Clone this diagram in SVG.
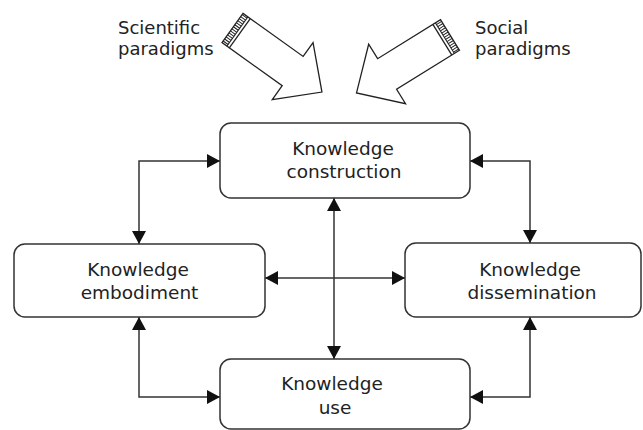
<svg xmlns="http://www.w3.org/2000/svg" width="643" height="430" viewBox="0 0 643 430">
  <style>
    .box { fill: #ffffff; stroke: #333333; stroke-width: 1.5; }
    .lbl { font-family: "DejaVu Sans", "Liberation Sans", sans-serif; font-size: 18.5px; fill: #222222; text-anchor: middle; }
    .side { font-family: "DejaVu Sans", "Liberation Sans", sans-serif; font-size: 18px; fill: #222222; }
    .con { fill: none; stroke: #333333; stroke-width: 1.5; marker-start: url(#ah); marker-end: url(#ah); }
    .big { fill: #ffffff; stroke: #222222; stroke-width: 1.3; stroke-linejoin: miter; }
    .hatch { stroke: #222222; stroke-width: 1; }
  </style>
  <defs>
    <marker id="ah" viewBox="0 0 13 14" refX="13" refY="7" markerWidth="13" markerHeight="14" markerUnits="userSpaceOnUse" orient="auto-start-reverse">
      <path d="M0,0 L13,7 L0,14 z" fill="#111111"/>
    </marker>
    <g id="hollow">
      <polygon class="big" points="0,-18 74,-18 74,-35 110,0 74,35 74,18 0,18"/>
      <g class="hatch">
        <line x1="0" y1="-16.5" x2="6" y2="-16.5"/>
        <line x1="0" y1="-14" x2="6" y2="-14"/>
        <line x1="0" y1="-11.5" x2="6" y2="-11.5"/>
        <line x1="0" y1="-9" x2="6" y2="-9"/>
        <line x1="0" y1="-6.5" x2="6" y2="-6.5"/>
        <line x1="0" y1="-4" x2="6" y2="-4"/>
        <line x1="0" y1="-1.5" x2="6" y2="-1.5"/>
        <line x1="0" y1="1" x2="6" y2="1"/>
        <line x1="0" y1="3.5" x2="6" y2="3.5"/>
        <line x1="0" y1="6" x2="6" y2="6"/>
        <line x1="0" y1="8.5" x2="6" y2="8.5"/>
        <line x1="0" y1="11" x2="6" y2="11"/>
        <line x1="0" y1="13.5" x2="6" y2="13.5"/>
        <line x1="0" y1="16" x2="6" y2="16"/>
        <line x1="6" y1="-18" x2="6" y2="18"/>
        <line x1="9" y1="-18" x2="9" y2="18" stroke-width="1.3"/>
      </g>
    </g>
  </defs>

  <g id="scientific-paradigms">
    <use href="#hollow" transform="translate(232.5,28) rotate(35.6)"/>
    <text class="side" x="118" y="34">Scientific</text>
    <text class="side" x="118" y="55">paradigms</text>
  </g>

  <g id="social-paradigms">
    <use href="#hollow" transform="translate(450,35) rotate(148.2)"/>
    <text class="side" x="475" y="34">Social</text>
    <text class="side" x="475" y="55">paradigms</text>
  </g>

  <g id="connectors">
    <path class="con" d="M220,161 H139 V244"/>
    <path class="con" d="M470,161 H530 V243"/>
    <path class="con" d="M139,317 V397 H220"/>
    <path class="con" d="M530,317 V397 H470"/>
    <path class="con" d="M334,198 V359"/>
    <path class="con" d="M265,278 H405"/>
  </g>

  <g id="construction">
    <rect class="box" x="220" y="123" width="250" height="75" rx="11"/>
    <text class="lbl" x="343" y="155">Knowledge</text>
    <text class="lbl" x="344" y="178">construction</text>
  </g>

  <g id="embodiment">
    <rect class="box" x="14" y="244" width="251" height="73" rx="11"/>
    <text class="lbl" x="138" y="276">Knowledge</text>
    <text class="lbl" x="139.5" y="299">embodiment</text>
  </g>

  <g id="dissemination">
    <rect class="box" x="405" y="243" width="236" height="74" rx="11"/>
    <text class="lbl" x="530" y="276">Knowledge</text>
    <text class="lbl" x="532" y="299">dissemination</text>
  </g>

  <g id="use">
    <rect class="box" x="220" y="359" width="250" height="70" rx="11"/>
    <text class="lbl" x="332" y="390">Knowledge</text>
    <text class="lbl" x="335" y="414">use</text>
  </g>
</svg>
